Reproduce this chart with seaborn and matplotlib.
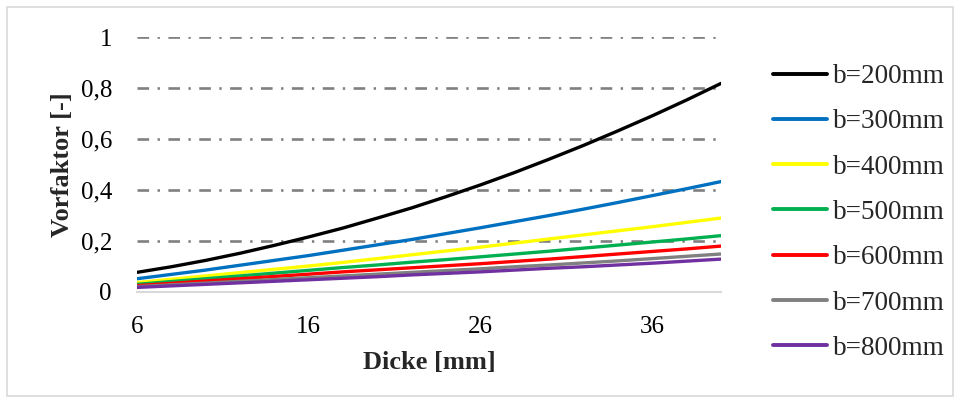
import matplotlib
matplotlib.use("Agg")
import matplotlib.pyplot as plt
import matplotlib.patches as mpatches
import seaborn as sns
import pandas as pd

# Dicke [mm]
dicke = [6, 8, 10, 12, 14, 16, 18, 20, 22, 24, 26, 28, 30, 32, 34, 36, 38, 40]

# Vorfaktor [-] per Breite
b200 = [0.077, 0.099, 0.124, 0.152, 0.183, 0.216, 0.251, 0.290, 0.330, 0.374,
        0.420, 0.469, 0.521, 0.575, 0.632, 0.691, 0.753, 0.818]
b300 = [0.052, 0.069, 0.086, 0.105, 0.124, 0.143, 0.164, 0.185, 0.206, 0.229,
        0.252, 0.276, 0.300, 0.325, 0.351, 0.378, 0.405, 0.433]
b400 = [0.037, 0.050, 0.063, 0.076, 0.089, 0.102, 0.116, 0.131, 0.146, 0.161,
        0.176, 0.192, 0.208, 0.224, 0.240, 0.256, 0.273, 0.290]
b500 = [0.030, 0.041, 0.052, 0.063, 0.074, 0.085, 0.096, 0.106, 0.117, 0.127,
        0.138, 0.149, 0.160, 0.172, 0.184, 0.196, 0.208, 0.221]
b600 = [0.025, 0.034, 0.043, 0.052, 0.061, 0.070, 0.079, 0.087, 0.095, 0.103,
        0.111, 0.120, 0.129, 0.139, 0.149, 0.159, 0.169, 0.180]
b700 = [0.021, 0.028, 0.035, 0.042, 0.049, 0.056, 0.063, 0.070, 0.077, 0.084,
        0.091, 0.099, 0.106, 0.114, 0.122, 0.131, 0.140, 0.149]
b800 = [0.018, 0.024, 0.030, 0.036, 0.042, 0.048, 0.054, 0.060, 0.067, 0.073,
        0.079, 0.086, 0.093, 0.099, 0.106, 0.113, 0.121, 0.129]

labels = ["b=200mm", "b=300mm", "b=400mm", "b=500mm", "b=600mm", "b=700mm", "b=800mm"]
colors = ["#000000", "#0070C0", "#FFFF00", "#00B050", "#FF0000", "#808080", "#7030A0"]
series = [b200, b300, b400, b500, b600, b700, b800]

yticks = [0, 0.2, 0.4, 0.6, 0.8, 1]
ytick_labels = ["0", "0,2", "0,4", "0,6", "0,8", "1"]
xticks = [6, 16, 26, 36]

rows = []
for lab, vals in zip(labels, series):
    for d, v in zip(dicke, vals):
        rows.append({"Dicke": d, "Vorfaktor": v, "Breite": lab})
df = pd.DataFrame(rows)

sns.set_style("white")
plt.rcParams["font.family"] = ["Liberation Serif", "DejaVu Serif"]

fig = plt.figure(figsize=(9.6, 4.03), dpi=100)
ax = fig.add_axes([137 / 960, 1 - 292 / 403, (721 - 137) / 960, (292 - 37) / 403])

sns.lineplot(data=df, x="Dicke", y="Vorfaktor", hue="Breite", hue_order=labels,
             palette=colors, linewidth=2.4, ax=ax, legend=False)

ax.set_xlim(6, 40)
ax.set_ylim(0, 1)
ax.set_xticks(xticks)
ax.set_xticklabels([str(t) for t in xticks])
ax.set_yticks(yticks)
ax.set_yticklabels(ytick_labels)
ax.tick_params(axis="both", length=0, labelsize=18, colors="#000000")
ax.tick_params(axis="x", pad=17)
ax.tick_params(axis="y", pad=18)

# dash-dot grid, light axis line at 0
ax.yaxis.grid(True, color="#808080", linewidth=1.9, linestyle=(0, (4.4, 3.2, 0.9, 3.2)))
ax.set_axisbelow(True)
for s in ["left", "right", "top"]:
    ax.spines[s].set_visible(False)
ax.spines["bottom"].set_color("#d9d9d9")
ax.spines["bottom"].set_linewidth(1.5)

ax.set_xlabel("Dicke [mm]", fontsize=19, fontweight="bold", labelpad=10)
ax.set_ylabel("Vorfaktor [-]", fontsize=19, fontweight="bold", labelpad=5)

handles = [plt.Line2D([], [], color=c, linewidth=2.8) for c in colors]
fig.legend(handles, labels, loc="upper left", bbox_to_anchor=(773 / 960, 1 - 64 / 403),
           frameon=False, fontsize=19.5, handlelength=2.0, handletextpad=0.2,
           labelspacing=0.75, borderaxespad=0, borderpad=0)

# outer chart border
fig.patches.append(mpatches.Rectangle((7 / 960, 7 / 403), 946 / 960, 389 / 403,
                                      transform=fig.transFigure, fill=False,
                                      edgecolor="#d9d9d9", linewidth=1.2))

fig.savefig("out.png", dpi=100)
plt.close(fig)
